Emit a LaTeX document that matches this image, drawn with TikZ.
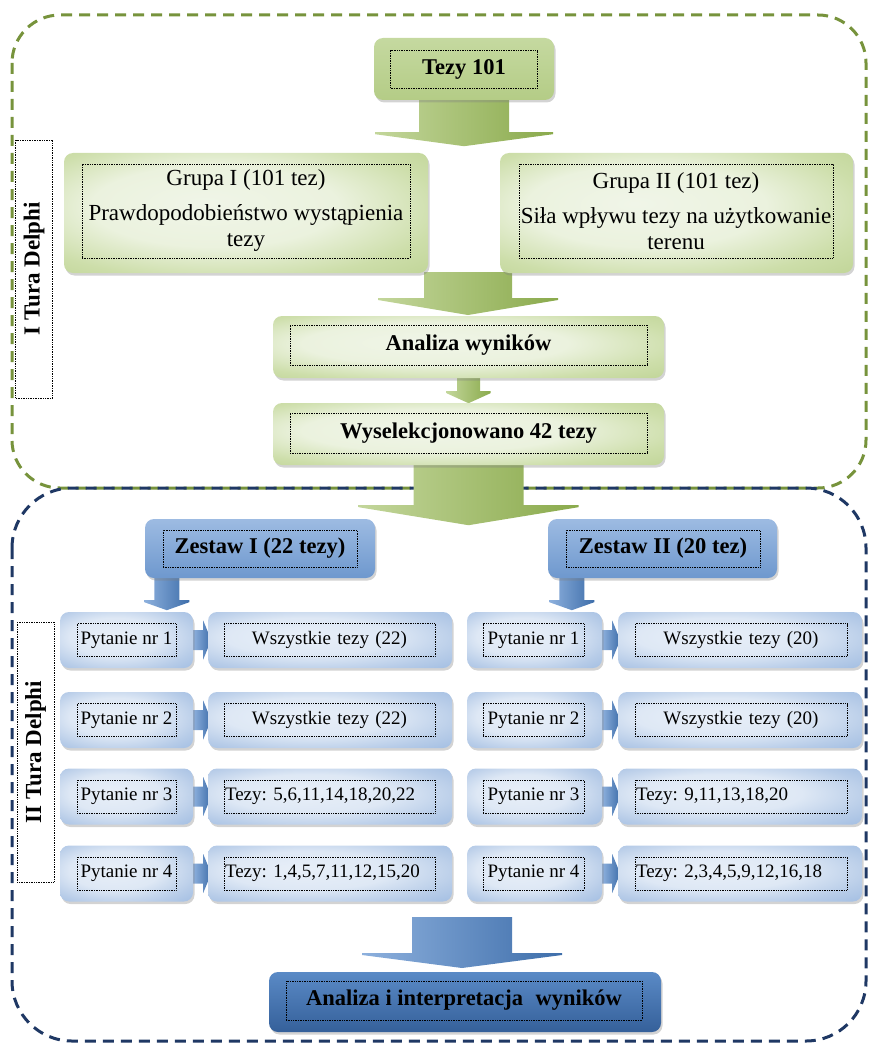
\documentclass[tikz,border=0pt]{standalone}
\usepackage{fontspec}
\setmainfont{Liberation Serif}
\usetikzlibrary{calc,shadows,backgrounds}
\definecolor{gdash}{HTML}{77933C}
\definecolor{bdash}{HTML}{1F3864}
\definecolor{gA}{HTML}{C5D9A0}
\definecolor{gB}{HTML}{9BBB59}
\definecolor{gC}{HTML}{B4CC86}
\definecolor{gArL}{HTML}{C3D69B}
\definecolor{gArR}{HTML}{8AAA4C}
\definecolor{bA}{HTML}{9DBBE2}
\definecolor{bB}{HTML}{5285C2}
\definecolor{bC}{HTML}{6E98CE}
\definecolor{bDk}{HTML}{35609A}
\definecolor{bMid}{HTML}{4A7AB8}
\definecolor{bTop}{HTML}{5A8AC6}
\definecolor{bArL}{HTML}{8DB0DD}
\definecolor{bArR}{HTML}{3E6EAA}
\definecolor{gp0}{HTML}{F0F5E8}
\definecolor{gp1}{HTML}{EBF2DE}
\definecolor{gp2}{HTML}{CDDEAA}
\definecolor{gp3}{HTML}{BED394}
\definecolor{bp0}{HTML}{E8EFF8}
\definecolor{bp1}{HTML}{DEE8F5}
\definecolor{bp2}{HTML}{B7CCE8}
\definecolor{bp3}{HTML}{9EBBE1}

\pgfdeclareradialshading{gpaleshade}{\pgfpoint{-6bp}{4bp}}{%
  color(0bp)=(gp0); color(17bp)=(gp1); color(30bp)=(gp2); color(40bp)=(gp3); color(60bp)=(gp3)}
\pgfdeclareradialshading{bpaleshade}{\pgfpoint{-6bp}{4bp}}{%
  color(0bp)=(bp0); color(17bp)=(bp1); color(30bp)=(bp2); color(40bp)=(bp3); color(60bp)=(bp3)}

\newcommand\DnArrow[6]{%
  \shade[#1] ($(#2)+(-#3,0)$) -- ($(#2)+(-#3,#4)$) -- ($(#2)+(-#5,#4)$) -- ($(#2)+(-#5,#4+2)$)
    -- ($(#2)+(0,#4+#6)$) -- ($(#2)+(#5,#4+2)$) -- ($(#2)+(#5,#4)$) -- ($(#2)+(#3,#4)$)
    -- ($(#2)+(#3,0)$) -- cycle;}
\newcommand\RtArrow[6]{%
  \shade[#1] ($(#2)+(0,-#3)$) -- ($(#2)+(#4,-#3)$) -- ($(#2)+(#4,-#5)$) -- ($(#2)+(#4+#6,0)$)
    -- ($(#2)+(#4,#5)$) -- ($(#2)+(#4,#3)$) -- ($(#2)+(0,#3)$) -- cycle;}

\begin{document}
\frenchspacing
\begin{tikzpicture}[x=1pt,y=-1pt,
  shadowed/.style={drop shadow={opacity=0.35,shadow xshift=1.5pt,shadow yshift=-2.5pt}},
  boxbase/.style={rounded corners=9pt,draw=none,shadowed,inner sep=0pt},
  gdark/.style={boxbase,top color=gA,middle color=gB,bottom color=gC},
  glight/.style={boxbase,shading=gpaleshade},
  bdark/.style={boxbase,top color=bA,middle color=bB,bottom color=bC},
  blight/.style={boxbase,shading=bpaleshade},
  bdeep/.style={boxbase,top color=bTop,middle color=bMid,bottom color=bDk},
  inbox/.style={draw=black,densely dotted,line width=0.7pt,inner sep=0pt,align=center},
  bigbold/.style={font=\fontsize{22.5}{26}\selectfont\bfseries},
  bigreg/.style={font=\fontsize{23}{26}\selectfont},
  smallreg/.style={font=\fontsize{19}{22}\selectfont},
  sidelabel/.style={draw=black,densely dotted,line width=0.7pt,rotate=90,inner sep=0pt,
    minimum height=37pt,font=\fontsize{23}{26}\selectfont\bfseries},
  gdashed/.style={draw=gdash,line width=3pt,dash pattern=on 11pt off 7pt,rounded corners=48pt},
  bdashed/.style={draw=bdash,line width=3pt,dash pattern=on 11pt off 7pt,rounded corners=60pt},
  garrow/.style={left color=gArL,right color=gArR},
  barrow/.style={left color=bArL,right color=bArR}]
\useasboundingbox (0,0) rectangle (868,1043);

% side labels
\node[sidelabel,minimum width=258pt] (lab1) at (34,269) {I Tura Delphi};
\node[sidelabel,minimum width=260pt] (lab2) at (35.5,752) {II Tura Delphi};

% first round
\node[gdark,minimum width=180pt,minimum height=62pt] (tz) at (464,69) {};
\node[inbox,bigbold,minimum width=147pt,minimum height=38pt] (tzt) at (464,69) {Tezy 101};

\node[glight,minimum width=364pt,minimum height=120pt] (g1) at (246,213) {};
\node[inbox,bigreg,minimum width=328pt,minimum height=94pt] (g1t) at (246,211)
  {Grupa I (101 tez)\\[9pt]Prawdopodobieństwo wystąpienia\\tezy};
\node[glight,minimum width=353pt,minimum height=120pt] (g2) at (676.5,213) {};
\node[inbox,bigreg,minimum width=314pt,minimum height=94pt] (g2t) at (676,211)
  {Grupa II (101 tez)\\[9pt]Siła wpływu tezy na użytkowanie\\terenu};

\node[glight,minimum width=391pt,minimum height=62pt] (an) at (468.5,347) {};
\node[inbox,bigbold,minimum width=357pt,minimum height=40pt] (ant) at (468.5,345) {Analiza wyników};
\node[glight,minimum width=391pt,minimum height=62pt] (ws) at (468.5,434) {};
\node[inbox,bigbold,minimum width=357pt,minimum height=40pt] (wst) at (468.5,433) {Wyselekcjonowano 42 tezy};

% second round
\node[bdark,minimum width=230pt,minimum height=59pt] (z1) at (260,548.5) {};
\node[inbox,bigbold,minimum width=194pt,minimum height=37pt] (z1t) at (260,548.5) {Zestaw I (22 tezy)};
\node[bdark,minimum width=229pt,minimum height=59pt] (z2) at (662.5,548.5) {};
\node[inbox,bigbold,minimum width=194pt,minimum height=37pt] (z2t) at (663,548.5) {Zestaw II (20 tez)};

\foreach \i/\y/\lt/\rt/\al in {1/640/Wszystkie tezy (22)/Wszystkie tezy (20)/center,
                              2/720/Wszystkie tezy (22)/Wszystkie tezy (20)/center,
                              3/796.5/{Tezy: 5,6,11,14,18,20,22}/{Tezy: 9,11,13,18,20}/left,
                              4/873.5/{Tezy: 1,4,5,7,11,12,15,20}/{Tezy: 2,3,4,5,9,12,16,18}/left}{
  \node[blight,minimum width=133pt,minimum height=56pt] (pl\i) at (126.5,\y) {};
  \node[inbox,smallreg,minimum width=99pt,minimum height=33pt] (pl\i t) at (126.5,\y) {Pytanie nr \i};
  \node[blight,minimum width=244pt,minimum height=56pt] (tl\i) at (330,\y) {};
  \node[inbox,smallreg,minimum height=33pt,text width=209pt,inner xsep=1pt,align=\al] (tl\i t) at (329.5,\y) {\lt};
  \node[blight,minimum width=135pt,minimum height=56pt] (pr\i) at (534.5,\y) {};
  \node[inbox,smallreg,minimum width=101pt,minimum height=33pt] (pr\i t) at (533.5,\y) {Pytanie nr \i};
  \node[blight,minimum width=244pt,minimum height=56pt] (tr\i) at (740,\y) {};
  \node[inbox,smallreg,minimum height=33pt,text width=210pt,inner xsep=1pt,align=\al] (tr\i t) at (741,\y) {\rt};
}

\node[bdeep,minimum width=392pt,minimum height=60pt] (fin) at (465,1002) {};
\node[inbox,bigbold,minimum width=356pt,minimum height=39pt] (fint) at (464,1000.5)
  {Analiza i interpretacja\hspace{0.3em} wyników};

\coordinate (gstart) at (468,272);
\coordinate (bstart) at (462,917);

\begin{scope}[on background layer]
  \draw[gdashed] (12,15) rectangle (866,488);
  \draw[bdashed] (12,488) rectangle (866,1041);
  \DnArrow{garrow}{tz.south}{45}{32}{89}{14}
  \DnArrow{garrow}{gstart}{44}{26}{90}{17}
  \DnArrow{garrow}{an.south}{11.5}{13}{22}{12}
  \DnArrow{garrow}{ws.south}{55}{40}{110}{20}
  \DnArrow{barrow}{$(z1.south west)+(22,0)$}{12.5}{22}{22.5}{10}
  \DnArrow{barrow}{$(z2.south west)+(24,0)$}{12.5}{22}{22.5}{10}
  \DnArrow{barrow}{bstart}{50}{36}{100}{15}
  \foreach \i in {1,2,3,4}{
    \RtArrow{barrow}{pl\i.east}{10}{10}{19.5}{8}
    \RtArrow{barrow}{pr\i.east}{10}{10}{19.5}{8}
  }
\end{scope}
\end{tikzpicture}
\end{document}
